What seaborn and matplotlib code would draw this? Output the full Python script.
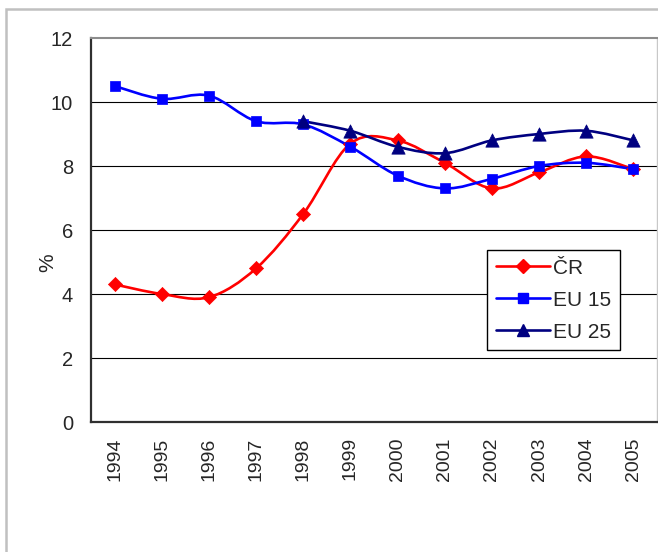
import numpy as np
import pandas as pd
import matplotlib
matplotlib.use("Agg")
import matplotlib.pyplot as plt
import seaborn as sns
from matplotlib.path import Path
from matplotlib.patches import PathPatch, Rectangle
from matplotlib.lines import Line2D

# data
years = ["1994", "1995", "1996", "1997", "1998", "1999",
         "2000", "2001", "2002", "2003", "2004", "2005"]
cr = [4.3, 4.0, 3.9, 4.8, 6.5, 8.7, 8.8, 8.1, 7.3, 7.8, 8.3, 7.9]
eu15 = [10.5, 10.1, 10.2, 9.4, 9.3, 8.6, 7.7, 7.3, 7.6, 8.0, 8.1, 7.9]
eu25 = [np.nan, np.nan, np.nan, np.nan, 9.4, 9.1, 8.6, 8.4, 8.8, 9.0, 9.1, 8.8]
series_names = ["ČR", "EU 15", "EU 25"]
y_ticks = [0, 2, 4, 6, 8, 10, 12]

colors = {"ČR": "#FF0000", "EU 15": "#0000FF", "EU 25": "#000080"}
markers = {"ČR": "D", "EU 15": "s", "EU 25": "^"}
msizes = {"ČR": 7.2, "EU 15": 7.6, "EU 25": 9.6}

df = pd.DataFrame({"year": years, "ČR": cr, "EU 15": eu15, "EU 25": eu25})
df["x"] = np.arange(len(years))
long = df.melt(id_vars=["year", "x"], value_vars=series_names,
               var_name="series", value_name="value").dropna()

sns.set_style("white")
plt.rcParams["font.family"] = ["Liberation Sans", "DejaVu Sans"]

fig = plt.figure(figsize=(6.58, 5.52), dpi=100)
ax = fig.add_axes([91 / 658, 1 - 422 / 552, 566 / 658, 384 / 552])

# outer chart frame (only left and top edges are visible)
fig.patches.append(Rectangle((6 / 658, -0.1), 1.2, 1 - 9 / 552 + 0.1,
                             transform=fig.transFigure, fill=False,
                             edgecolor="#c0c0c0", linewidth=1.8))


def smooth_path(xs, ys):
    # Excel-like smoothed line: Catmull-Rom converted to cubic Bezier
    pts = np.column_stack([xs, ys])
    verts = [pts[0]]
    codes = [Path.MOVETO]
    n = len(pts)
    for i in range(n - 1):
        p0 = pts[max(i - 1, 0)]
        p1 = pts[i]
        p2 = pts[i + 1]
        p3 = pts[min(i + 2, n - 1)]
        c1 = p1 + (p2 - p0) / 6.0
        c2 = p2 - (p3 - p1) / 6.0
        verts += [c1, c2, p2]
        codes += [Path.CURVE4] * 3
    return Path(verts, codes)


for name in series_names:
    sub = long[long["series"] == name]
    ax.add_patch(PathPatch(smooth_path(sub["x"].values, sub["value"].values),
                           fill=False, edgecolor=colors[name], linewidth=1.9,
                           zorder=3))
    sns.scatterplot(data=sub, x="x", y="value", ax=ax, marker=markers[name],
                    s=msizes[name] ** 2, color=colors[name],
                    edgecolor=colors[name], linewidth=0.5, zorder=4,
                    legend=False)

ax.set_xlim(-0.5, len(years) - 0.5)
ax.set_ylim(0, 12)
ax.set_yticks(y_ticks)
ax.set_yticklabels([str(t) for t in y_ticks], fontsize=14.5)
ax.set_xticks(np.arange(len(years)))
ax.set_xticklabels(years, rotation=90, fontsize=14)
ax.set_xticks(np.arange(len(years)) + 0.5, minor=True)
ax.tick_params(axis="x", which="major", length=0, pad=11)
ax.tick_params(axis="x", which="minor", direction="in", length=5,
               width=1, color="black")
ax.tick_params(axis="y", direction="out", length=3, width=1,
               color="black", pad=10)
ax.set_xlabel("")
ax.set_ylabel("%", fontsize=15)
ax.yaxis.set_label_coords(-0.060, 0.414)

for t in y_ticks[1:-1]:
    ax.axhline(t, color="black", linewidth=0.8, zorder=1)

ax.spines["left"].set_color("#303030")
ax.spines["left"].set_linewidth(1.6)
ax.spines["bottom"].set_color("#303030")
ax.spines["bottom"].set_linewidth(1.6)
ax.spines["top"].set_color("#8c8c8c")
ax.spines["top"].set_linewidth(1.5)
ax.spines["right"].set_color("#c8c8c8")
ax.spines["right"].set_linewidth(1.0)

handles = [Line2D([], [], color=colors[n], marker=markers[n],
                  markersize=msizes[n] * 0.95, linewidth=1.9,
                  markeredgecolor=colors[n]) for n in series_names]
leg = ax.legend(handles, series_names, loc="upper left",
                bbox_to_anchor=(487 / 658, 1 - 250 / 552),
                bbox_transform=fig.transFigure, borderaxespad=0,
                fontsize=15, frameon=True, fancybox=False, framealpha=1,
                edgecolor="black", handlelength=2.6, handletextpad=0.15,
                labelspacing=0.62, borderpad=0.42)
leg.get_frame().set_linewidth(1.0)

fig.savefig("out.png", dpi=100)
